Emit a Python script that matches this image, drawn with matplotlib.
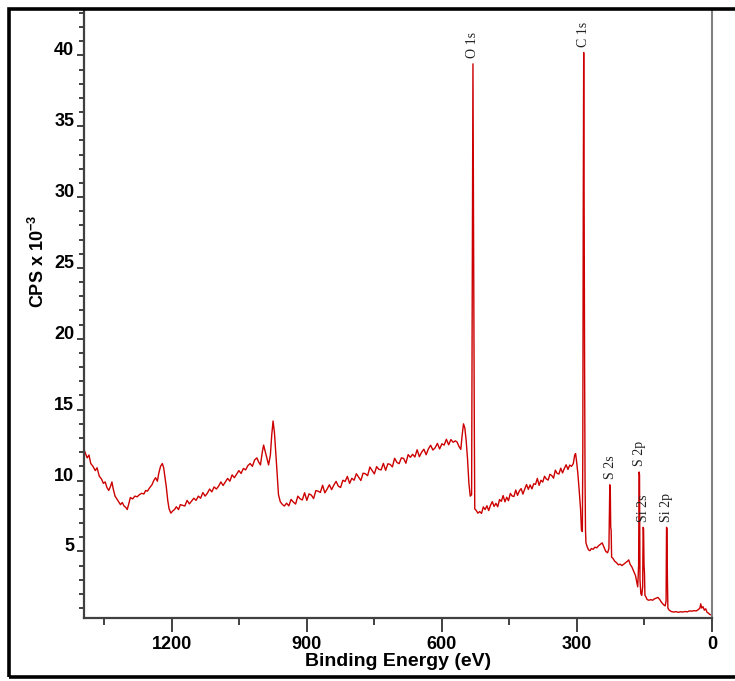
import matplotlib
matplotlib.use('Agg')
import matplotlib.pyplot as plt
from matplotlib.ticker import MultipleLocator
from matplotlib.patches import Rectangle

plt.rcParams['font.family'] = ['Liberation Sans', 'DejaVu Sans']
plt.rcParams['mathtext.fontset'] = 'custom'
plt.rcParams['mathtext.bf'] = 'Liberation Sans:bold'
plt.rcParams['mathtext.rm'] = 'Liberation Sans:bold'

# Survey spectrum (binding energy in eV, counts x 1e-3)
binding_energy = [
    1394, 1388, 1384, 1380, 1375, 1370, 1366, 1361, 1356, 1352, 1348, 1344, 1340, 1336, 1333, 1330,
    1326, 1322, 1318, 1314, 1310, 1306, 1302, 1299, 1296, 1292, 1287, 1282, 1277, 1272, 1267, 1262,
    1258, 1254, 1249, 1244, 1240, 1236, 1232, 1229, 1225, 1221, 1218, 1215, 1212, 1209, 1206, 1202,
    1198, 1194, 1190, 1185, 1181, 1176, 1171, 1166, 1161, 1156, 1151, 1146, 1141, 1136, 1131, 1126,
    1121, 1116, 1111, 1106, 1101, 1096, 1091, 1086, 1081, 1076, 1071, 1066, 1061, 1056, 1051, 1046,
    1041, 1036, 1031, 1026, 1021, 1016, 1011, 1007, 1003, 999, 996, 992, 988, 985, 981, 978,
    975, 972, 969, 966, 963, 959, 954, 950, 945, 940, 935, 930, 925, 920, 915, 910,
    905, 900, 895, 890, 885, 880, 875, 870, 865, 860, 855, 850, 845, 840, 835, 830,
    825, 820, 815, 810, 805, 800, 795, 790, 785, 780, 775, 770, 765, 760, 755, 750,
    745, 740, 735, 730, 725, 720, 715, 710, 705, 700, 695, 690, 685, 680, 675, 670,
    665, 660, 655, 650, 645, 640, 635, 630, 625, 620, 615, 610, 605, 600, 595, 590,
    585, 580, 575, 570, 566, 562, 558, 555, 552, 549, 546, 543, 540, 537, 534, 533,
    532, 531, 530, 529, 528, 527, 524, 520, 516, 512, 508, 504, 500, 496, 492, 488,
    484, 480, 476, 472, 468, 464, 460, 456, 452, 448, 444, 440, 436, 432, 428, 424,
    420, 416, 412, 408, 404, 400, 396, 392, 388, 384, 380, 376, 372, 368, 364, 360,
    356, 352, 348, 344, 340, 336, 332, 328, 324, 320, 316, 312, 308, 305, 303, 301,
    298, 295, 292, 290, 288, 287, 286, 285, 284, 283, 282, 281, 280, 277, 274, 271,
    268, 264, 260, 256, 252, 248, 244, 240, 236, 232, 229, 227, 226, 225, 224, 223,
    220, 216, 212, 208, 204, 200, 196, 192, 188, 185, 182, 178, 174, 170, 167, 165,
    163, 162, 161, 160, 158, 156, 154, 153, 152, 151, 150, 149, 147, 144, 140, 136,
    132, 128, 124, 120, 116, 112, 108, 104, 102, 101, 100, 99, 98, 95, 90, 85,
    80, 75, 70, 65, 60, 55, 50, 45, 40, 35, 30, 27, 25, 23, 20, 17,
    14, 11, 8, 5, 0,
]
cps = [
    12.1, 11.6, 11.8, 11.2, 11.0, 10.7, 10.9, 10.3, 10.1, 9.8, 9.9, 9.5, 9.3, 9.6, 9.9, 9.4,
    8.9, 8.7, 8.5, 8.3, 8.45, 8.2, 8.1, 7.95, 8.3, 8.8, 8.7, 8.9, 8.85, 9.0, 9.1, 9.05,
    9.3, 9.25, 9.5, 9.7, 10.0, 10.2, 9.95, 10.5, 11.0, 11.2, 10.9, 10.2, 9.5, 8.6, 8.0, 7.7,
    7.85, 7.95, 8.15, 7.95, 8.3, 8.25, 8.2, 8.6, 8.35, 8.55, 8.75, 8.6, 8.9, 8.75, 9.15, 8.9,
    9.1, 9.4, 9.2, 9.55, 9.4, 9.6, 9.9, 9.65, 9.9, 10.15, 9.95, 10.4, 10.2, 10.45, 10.7, 10.5,
    10.85, 10.75, 11.05, 11.2, 11.0, 11.45, 11.6, 11.3, 11.1, 12.0, 12.5, 12.0, 11.5, 11.1, 11.8, 13.2,
    14.2, 13.4, 12.0, 10.5, 9.0, 8.5, 8.3, 8.2, 8.4, 8.21, 8.67, 8.48, 8.34, 8.9, 8.71, 8.63,
    9.14, 8.6, 9.06, 8.97, 8.73, 9.29, 9.25, 9.16, 9.67, 9.13, 9.39, 9.7, 9.36, 9.68, 9.94, 9.6,
    9.51, 10.02, 9.93, 10.29, 9.8, 10.16, 10.02, 10.48, 10.24, 10.0, 10.52, 10.48, 10.34, 10.95, 10.71, 10.47,
    10.98, 10.79, 10.75, 11.21, 10.72, 11.18, 11.14, 10.96, 11.57, 11.28, 11.19, 11.6, 11.56, 11.22, 11.83, 11.64,
    11.85, 11.66, 12.17, 11.68, 12.0, 12.21, 11.82, 12.23, 12.49, 12.15, 12.31, 12.62, 12.23, 12.59, 12.5, 12.91,
    12.52, 12.89, 12.7, 12.8, 12.7, 12.4, 12.2, 13.2, 14.0, 13.7, 12.8, 11.5, 9.8, 8.9, 9.0, 20.0,
    30.0, 39.4, 30.0, 22.0, 14.0, 8.0, 7.9, 7.7, 7.81, 7.68, 8.14, 7.95, 8.22, 7.88, 8.25, 8.51,
    8.17, 8.39, 8.15, 8.66, 8.53, 8.94, 8.5, 8.82, 8.58, 9.09, 8.91, 8.87, 9.33, 8.95, 9.26, 9.43,
    9.04, 9.4, 9.72, 9.38, 9.69, 9.41, 9.77, 9.73, 10.15, 9.66, 10.02, 9.89, 10.3, 10.11, 10.03, 10.44,
    10.35, 10.17, 10.73, 10.5, 10.46, 10.87, 10.54, 10.85, 11.11, 10.78, 11.09, 11.0, 11.2, 11.8, 11.9, 11.4,
    10.5, 9.3, 8.0, 6.5, 6.4, 12.0, 29.0, 40.2, 29.0, 18.0, 10.0, 6.5, 5.6, 5.3, 5.1, 5.05,
    5.2, 5.15, 5.3, 5.25, 5.4, 5.5, 5.6, 5.3, 5.0, 4.9, 5.2, 9.7, 9.6, 6.7, 6.5, 4.6,
    4.5, 4.3, 4.2, 4.05, 4.1, 4.0, 4.1, 4.2, 4.3, 4.4, 4.1, 3.9, 3.6, 3.3, 2.8, 2.5,
    4.0, 10.6, 10.4, 3.0, 2.0, 1.9, 2.5, 6.7, 6.6, 4.0, 3.5, 1.9, 1.8, 1.6, 1.55, 1.6,
    1.55, 1.65, 1.7, 1.75, 1.6, 1.4, 1.25, 1.15, 1.5, 6.7, 6.6, 3.0, 1.0, 0.85, 0.75, 0.72,
    0.75, 0.7, 0.74, 0.72, 0.76, 0.73, 0.8, 0.78, 0.82, 0.8, 0.9, 1.0, 1.3, 1.0, 1.1, 0.85,
    0.95, 0.7, 0.65, 0.55, 0.5,
]

peak_names = ['O 1s', 'C 1s', 'S 2s', 'S 2p', 'Si 2s', 'Si 2p']
peak_be = [531, 285, 226.5, 161.5, 152, 100.5]
peak_top = [39.4, 40.2, 9.7, 10.6, 6.7, 6.7]

fig = plt.figure(figsize=(7.35, 6.81), dpi=100)
ax = fig.add_axes([84 / 735, 1 - 618 / 681, 628 / 735, 608 / 681])

ax.plot(binding_energy, cps, color='#cc0000', lw=1.0)

for name, be, top in zip(peak_names, peak_be, peak_top):
    ax.annotate(name, (be, top), xytext=(0, 4), textcoords='offset points',
                rotation=90, ha='center', va='bottom', fontsize=10,
                family=['Liberation Serif'], color='#222222')

ax.set_xlim(1395, 0)
ax.set_ylim(0.3, 43.2)

ax.xaxis.set_major_locator(MultipleLocator(300))
ax.xaxis.set_minor_locator(MultipleLocator(150))
ax.yaxis.set_major_locator(MultipleLocator(5))
ax.yaxis.set_minor_locator(MultipleLocator(1))

ax.tick_params(axis='x', which='major', direction='out', length=10, width=1.3, color='#333333', pad=3,
               labelsize=13)
ax.tick_params(axis='x', which='minor', direction='out', length=5, width=1.3, color='#333333')
ax.tick_params(axis='y', which='major', direction='out', length=5, width=1.3, color='#333333', pad=2,
               labelsize=13)
ax.tick_params(axis='y', which='minor', direction='out', length=3.5, width=1.3, color='#333333')
for lab in ax.get_xticklabels() + ax.get_yticklabels():
    lab.set_fontweight('bold')
for lab in ax.get_yticklabels():
    lab.set_va('baseline')

ax.spines['top'].set_visible(False)
ax.spines['left'].set_color('#404040')
ax.spines['bottom'].set_color('#404040')
ax.spines['left'].set_linewidth(1.6)
ax.spines['bottom'].set_linewidth(1.6)
ax.spines['right'].set_color('#808080')
ax.spines['right'].set_linewidth(1.5)

ax.set_xlabel('Binding Energy (eV)', fontsize=14, fontweight='bold', labelpad=0)
fig.text(38 / 735, 1 - 261 / 681, r'CPS x 10$^{\mathbf{-3}}$', rotation=90, ha='center', va='center',
         fontsize=13, fontweight='bold')

# black frame around the whole figure (right edge runs off the picture)
fig.add_artist(Rectangle((9 / 735, 1 - 677 / 681), 1.05, (677 - 8.5) / 681, transform=fig.transFigure,
                         fill=False, lw=2.6, edgecolor='black', clip_on=False))

plt.savefig('out.png', dpi=100)
